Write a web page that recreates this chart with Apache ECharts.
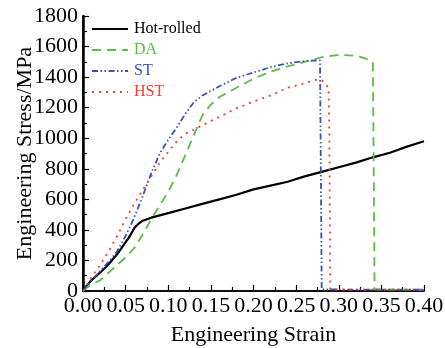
<!DOCTYPE html>
<html><head><meta charset="utf-8">
<script src="https://cdn.jsdelivr.net/npm/echarts@6/dist/echarts.min.js"></script>
<style>html,body{margin:0;padding:0;background:#fff}#c{width:445px;height:348px}</style>
</head><body><div id="c"></div>
<script>
var seriesNames = ['Hot-rolled', 'DA', 'ST', 'HST'];
var xTicks = [0, 0.05, 0.10, 0.15, 0.20, 0.25, 0.30, 0.35, 0.40];
var yTicks = [0, 200, 400, 600, 800, 1000, 1200, 1400, 1600, 1800];

var hotStrain = [0, 0.005, 0.01, 0.02, 0.03, 0.04, 0.05, 0.055, 0.06, 0.065, 0.07, 0.08, 0.09, 0.10, 0.12, 0.14, 0.16, 0.18, 0.20, 0.22, 0.24, 0.26, 0.28, 0.30, 0.32, 0.34, 0.36, 0.38, 0.40];
var hotStress = [0, 40, 70, 120, 175, 240, 320, 360, 410, 440, 460, 480, 495, 510, 540, 570, 600, 630, 665, 690, 715, 750, 780, 810, 840, 875, 905, 945, 980];

var daStrain = [0, 0.005, 0.01, 0.02, 0.03, 0.04, 0.05, 0.06, 0.07, 0.08, 0.09, 0.10, 0.11, 0.12, 0.13, 0.14, 0.15, 0.16, 0.18, 0.20, 0.22, 0.24, 0.26, 0.28, 0.30, 0.32, 0.33, 0.34, 0.341, 0.342, 0.40];
var daStress = [0, 25, 40, 70, 120, 170, 220, 280, 370, 470, 560, 650, 760, 890, 1020, 1150, 1220, 1270, 1330, 1390, 1435, 1470, 1500, 1530, 1545, 1540, 1525, 1500, 800, 10, 8];

var stStrain = [0, 0.01, 0.02, 0.03, 0.04, 0.05, 0.06, 0.07, 0.08, 0.09, 0.10, 0.11, 0.12, 0.13, 0.14, 0.15, 0.16, 0.18, 0.20, 0.22, 0.24, 0.26, 0.278, 0.279, 0.28, 0.40];
var stStress = [0, 70, 130, 190, 260, 360, 480, 620, 770, 900, 990, 1070, 1160, 1235, 1280, 1310, 1340, 1395, 1430, 1465, 1490, 1505, 1510, 800, 10, 8];

var hstStrain = [0, 0.01, 0.02, 0.03, 0.04, 0.05, 0.06, 0.07, 0.08, 0.09, 0.10, 0.11, 0.12, 0.13, 0.14, 0.16, 0.18, 0.20, 0.22, 0.24, 0.26, 0.275, 0.28, 0.285, 0.288, 0.289, 0.290, 0.40];
var hstStress = [0, 90, 170, 260, 360, 470, 570, 660, 750, 840, 910, 980, 1030, 1055, 1085, 1140, 1195, 1240, 1280, 1330, 1360, 1385, 1380, 1350, 1330, 1030, 10, 8];

var colors = ['#000000', '#5cba47', '#3a52b4', '#f0412f'];

function pairs(xs, ys) { return xs.map(function (x, i) { return [x, ys[i]]; }); }

var font = '"Liberation Serif","Times New Roman",serif';
var chart = echarts.init(document.getElementById('c'), null, {renderer: 'canvas'});
chart.setOption({
  animation: false,
  backgroundColor: '#fff',
  grid: {left: 83, right: 21, top: 16, bottom: 57, containLabel: false, outerBoundsMode: 'none'},
  legend: {
    left: 91, top: 21, orient: 'vertical', itemWidth: 36, itemHeight: 14, itemGap: 5, padding: 0,
    itemStyle: {opacity: 0},
    textStyle: {fontFamily: font, fontSize: 16, lineHeight: 14, padding: [0, 0, 0, 1]},
    data: seriesNames.map(function (n, i) { return {name: n, textStyle: {color: colors[i]}}; })
  },
  xAxis: [{
    type: 'value', min: 0, max: 0.4, interval: 0.05,
    name: 'Engineering Strain', nameLocation: 'middle', nameGap: 33, nameMoveOverlap: false,
    nameTextStyle: {fontFamily: font, fontSize: 22, color: '#000'},
    axisLine: {show: true, onZero: false, lineStyle: {color: '#000', width: 1.5}},
    axisTick: {show: true, inside: true, length: 6, lineStyle: {color: '#000', width: 1.2}},
    minorTick: {show: true, splitNumber: 2, length: 4, lineStyle: {color: '#000', width: 1.2}},
    splitLine: {show: false},
    axisLabel: {fontFamily: font, fontSize: 22, color: '#000', margin: 4,
      formatter: function (v) { return v.toFixed(2); }}
  }, {
    type: 'value', position: 'top', min: 0, max: 0.4,
    axisLine: {show: true, lineStyle: {color: '#000', width: 1.5}},
    axisTick: {show: false}, axisLabel: {show: false}, splitLine: {show: false}
  }],
  yAxis: [{
    type: 'value', min: 0, max: 1800, interval: 200,
    name: 'Engineering Stress/MPa', nameLocation: 'middle', nameGap: 47, nameMoveOverlap: false,
    nameTextStyle: {fontFamily: font, fontSize: 22, color: '#000'},
    axisLine: {show: true, onZero: false, lineStyle: {color: '#000', width: 1.5}},
    axisTick: {show: true, inside: true, length: 6, lineStyle: {color: '#000', width: 1.2}},
    minorTick: {show: true, splitNumber: 2, length: 4, lineStyle: {color: '#000', width: 1.2}},
    splitLine: {show: false},
    axisLabel: {fontFamily: font, fontSize: 22, color: '#000', margin: 5,
      formatter: function (v) { return String(v); }}
  }, {
    type: 'value', position: 'right', min: 0, max: 1800,
    axisLine: {show: true, lineStyle: {color: '#000', width: 2.5}},
    axisTick: {show: false}, axisLabel: {show: false}, splitLine: {show: false}
  }],
  series: [
    {name: seriesNames[0], type: 'line', data: pairs(hotStrain, hotStress), symbol: 'none', color: colors[0],
      lineStyle: {color: colors[0], width: 2.2, type: 'solid'}},
    {name: seriesNames[1], type: 'line', data: pairs(daStrain, daStress), symbol: 'none', color: colors[1],
      lineStyle: {color: colors[1], width: 1.8, type: [9, 6]}},
    {name: seriesNames[2], type: 'line', data: pairs(stStrain, stStress), symbol: 'none', color: colors[2],
      lineStyle: {color: colors[2], width: 1.8, type: [6, 2.5, 1.5, 2.5, 1.5, 2.5]}},
    {name: seriesNames[3], type: 'line', data: pairs(hstStrain, hstStress), symbol: 'none', color: colors[3],
      lineStyle: {color: colors[3], width: 1.8, type: [2, 5]}}
  ]
});
</script></body></html>
